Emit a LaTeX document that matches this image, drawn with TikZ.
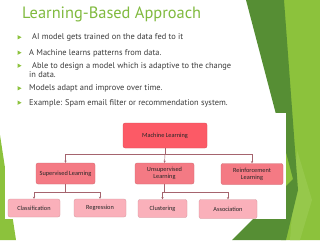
\documentclass[tikz,border=0pt]{standalone}
\usepackage{fontspec}
\setmainfont{PT Sans}
\newfontfamily\boxfont{Carlito}
\usetikzlibrary{arrows.meta}
\definecolor{lgreen}{RGB}{140,194,60}
\definecolor{mgreen}{RGB}{150,200,75}
\definecolor{dgreen}{RGB}{86,142,52}
\definecolor{titlegreen}{RGB}{128,186,62}
\definecolor{bodygray}{RGB}{60,60,60}
\definecolor{mlred}{RGB}{252,90,102}
\definecolor{lvtwo}{RGB}{244,122,132}
\definecolor{lvthree}{RGB}{250,176,186}
\definecolor{linkc}{RGB}{165,100,110}
\tikzset{
  bodytext/.style={anchor=base west,inner sep=0pt,font=\fontsize{8.4}{10}\selectfont,text=bodygray},
  bul/.style={fill=lgreen,draw=none},
  boxbase/.style={rounded corners=2pt,inner sep=0pt,align=center,font=\boxfont\fontsize{6.3}{7}\selectfont,text=black!85},
  mlbox/.style={boxbase,fill=mlred,draw=mlred!85!black,line width=0.3pt,minimum width=84pt,minimum height=25pt},
  twobox/.style={boxbase,fill=lvtwo,draw=lvtwo!85!black,line width=0.3pt,minimum height=21pt},
  threebox/.style={boxbase,fill=lvthree,draw=lvthree!85!black,line width=0.3pt,minimum height=18pt},
  link/.style={draw=linkc,line width=0.45pt},
  arr/.style={link,-{Stealth[length=2.2pt,width=2.2pt]}}
}
\begin{document}
\begin{tikzpicture}[x=1pt,y=-1pt]
\useasboundingbox (0,0) rectangle (320,240);
\fill[white] (0,0) rectangle (320,240);
% green decoration
\fill[lgreen] (283,0) -- (320,0) -- (320,240) -- (281,240) -- cycle;
\fill[mgreen] (297,150) -- (312,200) -- (300,240) -- (290,240) -- cycle;
\fill[dgreen] (246,0) -- (284,0) -- (298,190) -- (286,240) -- (232,240) -- (293,179) -- cycle;
\fill[lgreen] (0,135) -- (16,240) -- (0,240) -- cycle;
% panel
\fill[white] (5,113) rectangle (286,219);
% title
\node[anchor=base west,inner sep=0pt,font=\fontsize{16.4}{20}\selectfont,text=titlegreen] (title) at (22,18.5) {Learning-Based Approach};
% bullets
\foreach \yy in {37.3,52.7,65.7,88.3,102.7}{
  \fill[bul] (17.5,\yy-2.2) -- (21.5,\yy) -- (17.5,\yy+2.2) -- cycle;
}
\node[bodytext] (t1) at (32,40) {AI model gets trained on the data fed to it};
\node[bodytext] (t2) at (29,55.3) {A Machine learns patterns from data.};
\node[bodytext] (t3) at (32,68.3) {Able to design a model which is adaptive to the change};
\node[bodytext] (t3b) at (29,77.8) {in data.};
\node[bodytext] (t4) at (29,91) {Models adapt and improve over time.};
\node[bodytext] (t5) at (29,105.3) {Example: Spam email filter or recommendation system.};
% diagram
\node[mlbox] (ml) at (165,135.5) {Machine Learning};
\node[twobox,minimum width=59pt] (sup) at (65.5,173.5) {Supervised Learning};
\node[twobox,minimum width=59pt] (uns) at (164.5,173.5) {Unsupervised\\Learning};
\node[twobox,minimum width=62pt] (rei) at (252,174) {Reinforcement\\Learning};
\node[threebox,minimum width=52pt] (cla) at (34,208) {Classification};
\node[threebox,minimum width=52pt] (reg) at (100,208) {Regression};
\node[threebox,minimum width=49pt] (clu) at (162.5,208.5) {Clustering};
\node[threebox,minimum width=58pt,minimum height=19pt] (ass) at (228,209) {Association};
\coordinate (j1) at (165,154.5);
\coordinate (j2) at (65.5,192);
\coordinate (j3) at (164.5,192);
\draw[link] (ml.south) -- (j1);
\draw[arr] (j1) -| (sup.north);
\draw[arr] (j1) -- (uns.north);
\draw[arr] (j1) -| (rei.north);
\draw[link] (sup.south) -- (j2);
\draw[arr] (j2) -| (cla.north);
\draw[arr] (j2) -| (reg.north);
\draw[link] (uns.south) -- (j3);
\draw[arr] (j3) -| (clu.north);
\draw[arr] (j3) -| (ass.north);
\end{tikzpicture}
\end{document}
